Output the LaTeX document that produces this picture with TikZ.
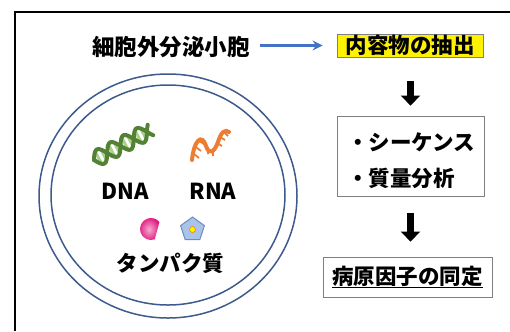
\documentclass[tikz,border=0pt]{standalone}
\usepackage{fontspec}
\setmainfont{Noto Sans CJK JP}
\usetikzlibrary{arrows.meta,shapes.geometric}

\definecolor{ringblue}{HTML}{3D5A8C}
\definecolor{arrowblue}{HTML}{4472C4}
\definecolor{boxgray}{HTML}{7F7F7F}
\definecolor{dnagreen}{HTML}{548235}
\definecolor{dnalight}{HTML}{A9D18E}
\definecolor{rnaorange}{HTML}{ED7D31}
\definecolor{protpink}{HTML}{E2157C}
\definecolor{pentfill}{HTML}{A9C4E8}
\definecolor{pentedge}{HTML}{6A8CC0}

\tikzset{
  jp/.style={font=\fontsize{21.5bp}{26bp}\selectfont\bfseries, inner sep=0pt},
  ring/.style={draw=ringblue, line width=1.5bp},
  stepbox/.style={draw=boxgray, line width=0.8bp, inner sep=0pt},
  downarrow/.style={line width=7bp, -{Triangle[length=10bp,width=19bp]}},
}
% helix axis: start point, direction (cos 28, -sin 28) and its normal
\def\hx{94}\def\hy{160}
\def\ux{0.883}\def\uy{-0.469}

\begin{document}
\begin{tikzpicture}[x=1bp,y=-1bp]
\useasboundingbox (0,0) rectangle (510,331);

% outer frame (top and left edges)
\draw[line width=2bp] (14.5,331) -- (14.5,12) -- (510,12);

% vesicle membrane
\draw[ring] (168,196) ellipse [x radius=129, y radius=122];
\draw[ring] (168,195) ellipse [x radius=117, y radius=110];

% title and flow
\node[jp, font=\fontsize{22.5bp}{26bp}\selectfont\bfseries] (src) at (171,47) {細胞外分泌小胞};
\node[stepbox, fill=yellow, minimum width=146bp, minimum height=23bp, jp] (ext) at (410,45.5) {内容物の抽出};
\draw[arrowblue, line width=2.4bp, -{Stealth[length=10bp,width=10bp]}, shorten <=10bp, shorten >=14bp]
  (src.east |- ext.west) -- (ext.west);

\node[stepbox, minimum width=147bp, minimum height=80bp] (ana) at (410.5,156) {};
\node[jp, align=left, font=\fontsize{21.5bp}{36bp}\selectfont\bfseries] (anatext) at (411,160.5) {・シーケンス\\・質量分析};
\node[stepbox, minimum width=169bp, minimum height=40bp, jp] (ident) at (407.5,277) {\underline{病原因子の同定}};

\draw[downarrow, shorten <=24bp, shorten >=10bp] (ext.south -| ana.north) -- (ana.north);
\draw[downarrow, shorten <=17bp, shorten >=15bp] (ana.south) -- (ana.south |- ident.north);

% DNA double helix along a tilted axis
\foreach \t in {8,23,38,53}{
  \foreach \d in {-3,3}{
    \pgfmathsetmacro{\s}{8*sin((\t+\d)*12)}
    \draw[dnalight, line width=3bp]
      ({\hx+\ux*(\t+\d)+0.469*\s},{\hy+\uy*(\t+\d)+0.883*\s}) --
      ({\hx+\ux*(\t+\d)-0.469*\s},{\hy+\uy*(\t+\d)-0.883*\s});
  }
}
\draw[dnagreen, line width=4bp, line cap=round] plot[domain=0:64, samples=60]
  ({\hx+\ux*\x+0.469*8*sin(\x*12)},{\hy+\uy*\x+0.883*8*sin(\x*12)});
\draw[dnagreen, line width=4bp, line cap=round] plot[domain=0:64, samples=60]
  ({\hx+\ux*\x-0.469*8*sin(\x*12)},{\hy+\uy*\x-0.883*8*sin(\x*12)});
\node[jp, font=\fontsize{22bp}{26bp}\selectfont\bfseries] (dna) at (125.5,191) {DNA};

% RNA single strand with its bases
\draw[rnaorange, line width=1.8bp]
  (194,154) -- (199,158) (196,147) -- (201,151) (199,141) -- (204,144)
  (208,147) -- (208,154) (213,149) -- (213,156)
  (217,143) -- (222,146) (220,137) -- (225,140) (224,132) -- (228,136);
\draw[rnaorange, line width=4bp, line cap=round]
  (192,160) .. controls (194,140) and (202,133) .. (206,146)
  .. controls (209,155) and (214,153) .. (218,142)
  .. controls (221,132) and (225,129) .. (229,132);
\node[jp, font=\fontsize{22bp}{26bp}\selectfont\bfseries] (rna) at (213,191) {RNA};

% proteins
\shade[inner color=protpink!35!white, outer color=protpink]
  (151,229) ++(70:11) arc[start angle=70, end angle=320, radius=11] -- cycle;
\node[regular polygon, regular polygon sides=5, minimum size=25bp, inner sep=0pt,
      fill=pentfill, draw=pentedge, line width=1bp] (pent) at (192.5,229.5) {};
\node[circle, fill=yellow, draw=orange, line width=0.6bp, minimum size=6bp, inner sep=0pt] (core) at (pent.center) {};

\node[jp] (prot) at (170.5,263) {タンパク質};
\end{tikzpicture}
\end{document}
